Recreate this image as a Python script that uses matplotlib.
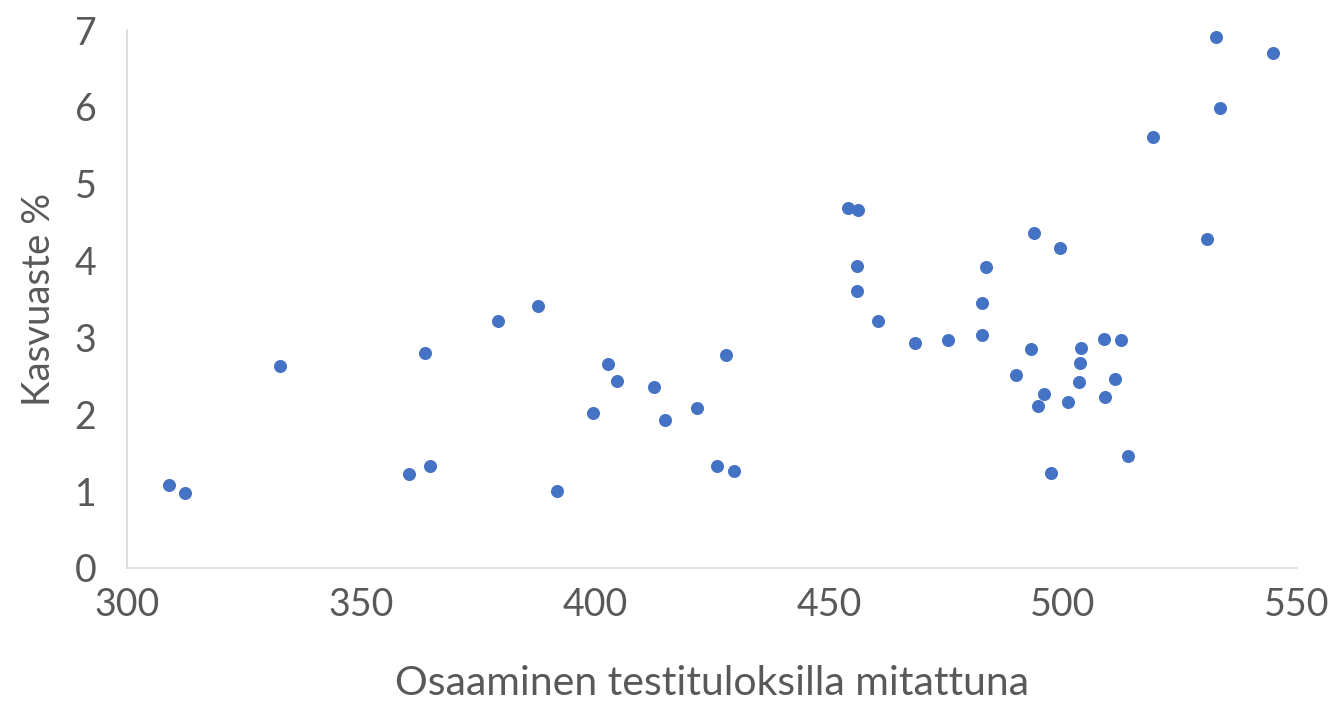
import matplotlib
matplotlib.use("Agg")
import matplotlib.pyplot as plt

# Osaaminen (test score) vs kasvuaste (growth %)
osaaminen = [309.0, 312.4, 332.7, 360.3, 363.7, 364.7, 379.3, 387.8, 391.9, 399.6,
             402.8, 404.7, 412.6, 415.0, 421.8, 426.1, 428.0, 429.7, 454.1, 456.2,
             456.0, 456.0, 460.5, 468.4, 475.4, 482.7, 482.7, 483.5, 490.0, 493.2,
             493.8, 494.7, 496.0, 497.4, 499.4, 501.1, 503.4, 503.6, 503.8, 508.8,
             509.0, 511.1, 512.4, 513.9, 519.2, 530.8, 532.7, 533.5, 544.9]
kasvuaste = [1.08, 0.98, 2.63, 1.22, 2.80, 1.33, 3.21, 3.41, 1.00, 2.02,
             2.65, 2.43, 2.35, 1.93, 2.08, 1.33, 2.77, 1.26, 4.68, 4.66,
             3.93, 3.60, 3.21, 2.93, 2.97, 3.45, 3.03, 3.92, 2.51, 2.85,
             4.36, 2.11, 2.26, 1.24, 4.16, 2.16, 2.42, 2.67, 2.86, 2.98,
             2.22, 2.46, 2.97, 1.46, 5.61, 4.28, 6.91, 5.98, 6.70]

x_ticks = [300, 350, 400, 450, 500, 550]
y_ticks = [0, 1, 2, 3, 4, 5, 6, 7]

plt.rcParams['font.family'] = ['Lato', 'DejaVu Sans']
grey = '#595959'

fig = plt.figure(figsize=(13.34, 7.05), dpi=100)
ax = fig.add_axes([127 / 1334, 137 / 705, 1170 / 1334, 538 / 705])
ax.scatter(osaaminen, kasvuaste, s=88, color='#4472C4', zorder=3, linewidths=0)

ax.set_xlim(300, 550)
ax.set_ylim(0, 7)
ax.set_xticks(x_ticks)
ax.set_yticks(y_ticks)
ax.tick_params(axis='both', length=0, labelsize=27, colors=grey)
ax.tick_params(axis='x', pad=14)
ax.tick_params(axis='y', pad=22)

for s in ['top', 'right']:
    ax.spines[s].set_visible(False)
for s in ['left', 'bottom']:
    ax.spines[s].set_color('#d9d9d9')
    ax.spines[s].set_linewidth(1.2)

ax.set_xlabel('Osaaminen testituloksilla mitattuna', fontsize=29.5, color=grey, labelpad=30)
ax.set_ylabel('Kasvuaste %', fontsize=27.6, color=grey, labelpad=13)

fig.savefig('out.png', dpi=100)
